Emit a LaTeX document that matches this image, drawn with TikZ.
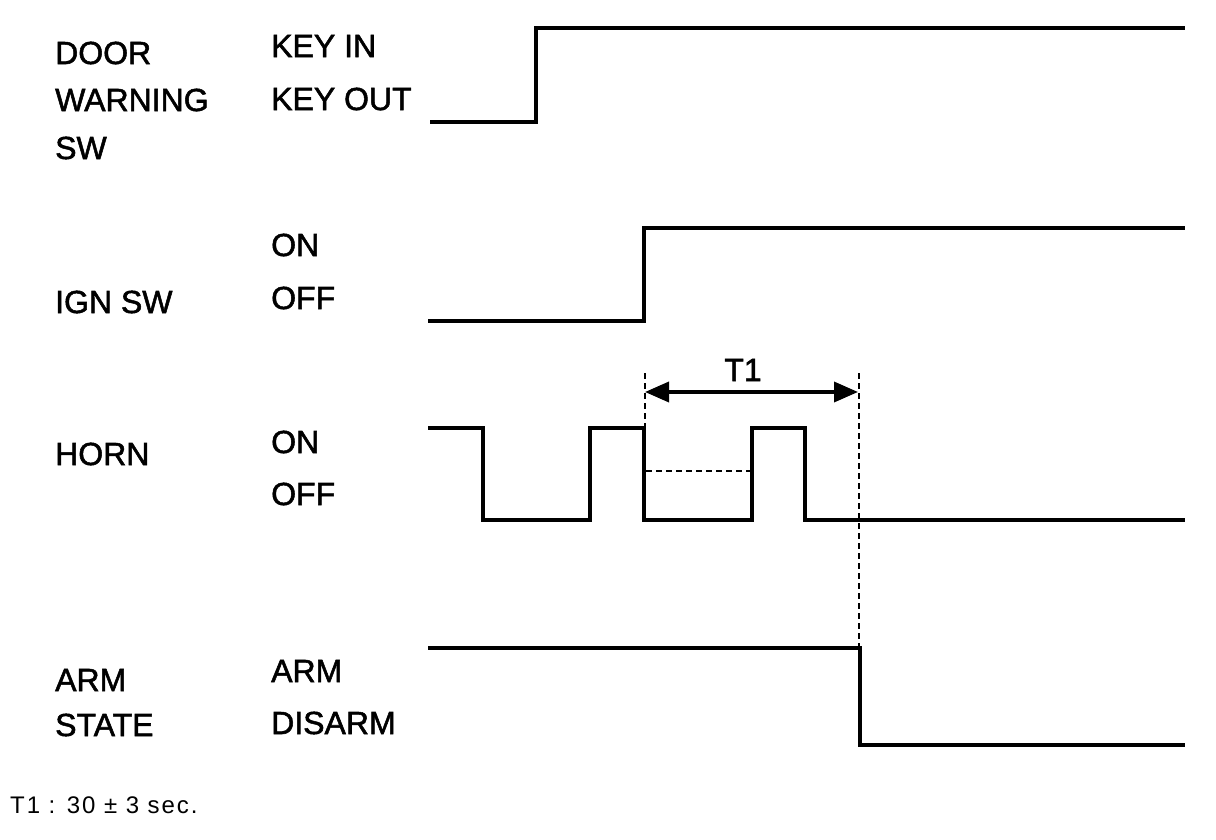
\documentclass[tikz,border=0pt]{standalone}
\usepackage{fontspec}
\setmainfont{Liberation Sans}
\newfontfamily\labfont[FakeBold=1.6]{Liberation Sans}
\newfontfamily\notefont[LetterSpace=8]{Liberation Sans}
\usetikzlibrary{arrows.meta}
\begin{document}
\begin{tikzpicture}[x=1pt,y=-1pt,
  sig/.style={line width=3.6pt,line join=miter},
  guide/.style={line width=1.2pt,dash pattern=on 6pt off 4pt},
  lbl/.style={anchor=west,inner sep=0pt,font=\labfont\fontsize{32}{35}\selectfont},
  dim/.style={line width=3.6pt,{Triangle[length=24pt,width=20pt]}-{Triangle[length=24pt,width=20pt]}}]
\useasboundingbox (0,0) rectangle (1216,840);
% labels
\node[lbl] (d1) at (55,53) {DOOR};
\node[lbl] (d2) at (55,100) {WARNING};
\node[lbl] (d3) at (55,148) {SW};
\node[lbl] (k1) at (271,46) {KEY IN};
\node[lbl] (k2) at (271,99) {KEY OUT};
\node[lbl] (i1) at (55,302) {IGN SW};
\node[lbl] (i2) at (271,245) {ON};
\node[lbl] (i3) at (271,298) {OFF};
\node[lbl] (h1) at (55,454) {HORN};
\node[lbl] (h2) at (271,442) {ON};
\node[lbl] (h3) at (271,494) {OFF};
\node[lbl] (a1) at (55,680) {ARM};
\node[lbl] (a2) at (55,725) {STATE};
\node[lbl] (a3) at (271,671) {ARM};
\node[lbl] (a4) at (271,723) {DISARM};
\node[anchor=west,inner sep=0pt,font=\notefont\fontsize{24}{27}\selectfont] (fn) at (10,805) {T1 : 30 ± 3 sec.};
\node[inner sep=0pt,font=\labfont\fontsize{32}{35}\selectfont] (t1) at (743,370) {T1};
% waveforms
\draw[sig] (430,122) -- (536,122) -- (536,28) -- (1185,28);
\draw[sig] (428,321) -- (644,321) -- (644,228) -- (1185,228);
\draw[sig] (428,428) -- (483,428) -- (483,520) -- (590,520) -- (590,428) -- (644,428) -- (644,520) -- (752,520) -- (752,428) -- (805,428) -- (805,520) -- (1185,520);
\draw[sig] (428,648) -- (860,648) -- (860,745) -- (1185,745);
% guides
\coordinate (g1t) at (645,373);
\coordinate (g1b) at (645,428);
\coordinate (g2t) at (859,373);
\coordinate (g2b) at (859,646);
\draw[guide] (g1t) -- (g1b);
\draw[guide] (g2t) -- (g2b);
\draw[guide] (646,471) -- (750,471);
\coordinate (al) at (645,392);
\coordinate (ar) at (858,392);
\draw[dim] (al) -- (ar);
\end{tikzpicture}
\end{document}
